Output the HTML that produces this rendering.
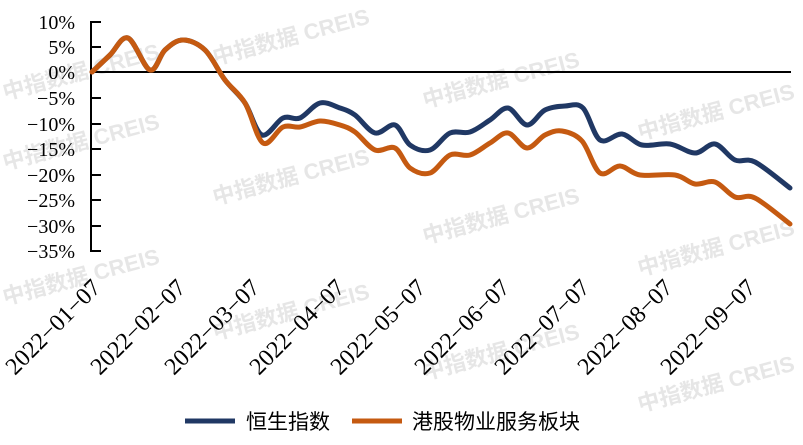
<!DOCTYPE html>
<html><head><meta charset="utf-8"><style>
html,body{margin:0;padding:0;background:#fff;}
svg{display:block;}
</style></head><body>
<svg id="s" width="803" height="445" viewBox="0 0 803 445" xmlns="http://www.w3.org/2000/svg">
<g font-family="Liberation Sans, Noto Sans CJK SC, sans-serif" font-size="22" font-weight="bold" fill="#e6e6e6">
<text transform="translate(5,100) rotate(-15)">中指数据 CREIS</text>
<text transform="translate(215,65) rotate(-15)">中指数据 CREIS</text>
<text transform="translate(5,170) rotate(-15)">中指数据 CREIS</text>
<text transform="translate(215,205) rotate(-15)">中指数据 CREIS</text>
<text transform="translate(5,305) rotate(-15)">中指数据 CREIS</text>
<text transform="translate(215,340) rotate(-15)">中指数据 CREIS</text>
<text transform="translate(425,108) rotate(-15)">中指数据 CREIS</text>
<text transform="translate(640,140) rotate(-15)">中指数据 CREIS</text>
<text transform="translate(425,244) rotate(-15)">中指数据 CREIS</text>
<text transform="translate(640,276) rotate(-15)">中指数据 CREIS</text>
<text transform="translate(425,380) rotate(-15)">中指数据 CREIS</text>
<text transform="translate(640,412) rotate(-15)">中指数据 CREIS</text>
</g>
<g stroke="#000" stroke-width="2">
<line x1="91" y1="21" x2="91" y2="252"/>
<line x1="91" y1="72" x2="791" y2="72"/>
<line x1="91" y1="22" x2="101" y2="22"/>
<line x1="91" y1="47" x2="101" y2="47"/>
<line x1="91" y1="98" x2="101" y2="98"/>
<line x1="91" y1="124" x2="101" y2="124"/>
<line x1="91" y1="149" x2="101" y2="149"/>
<line x1="91" y1="175" x2="101" y2="175"/>
<line x1="91" y1="200" x2="101" y2="200"/>
<line x1="91" y1="226" x2="101" y2="226"/>
<line x1="91" y1="251" x2="101" y2="251"/>
</g>
<g font-family="Liberation Serif, serif" font-size="20" fill="#000" text-anchor="end">
<text x="75" y="29">10%</text>
<text x="75" y="54">5%</text>
<text x="75" y="79">0%</text>
<text x="75" y="105">−5%</text>
<text x="75" y="131">−10%</text>
<text x="75" y="156">−15%</text>
<text x="75" y="182">−20%</text>
<text x="75" y="207">−25%</text>
<text x="75" y="233">−30%</text>
<text x="75" y="258">−35%</text>
</g>
<g font-family="Liberation Serif, serif" font-size="24" fill="#000" text-anchor="end">
<text transform="translate(102,289) rotate(-45)">2022−01−07</text>
<text transform="translate(187,289) rotate(-45)">2022−02−07</text>
<text transform="translate(261,289) rotate(-45)">2022−03−07</text>
<text transform="translate(346,289) rotate(-45)">2022−04−07</text>
<text transform="translate(427,289) rotate(-45)">2022−05−07</text>
<text transform="translate(511,289) rotate(-45)">2022−06−07</text>
<text transform="translate(591,289) rotate(-45)">2022−07−07</text>
<text transform="translate(674,289) rotate(-45)">2022−08−07</text>
<text transform="translate(757,289) rotate(-45)">2022−09−07</text>
</g>
<path id="pb" fill="none" stroke="#203864" stroke-width="5" stroke-linejoin="round" stroke-linecap="round"/>
<path id="po" fill="none" stroke="#c55a11" stroke-width="5" stroke-linejoin="round" stroke-linecap="round"/>
<line x1="185" y1="421" x2="235" y2="421" stroke="#203864" stroke-width="5"/>
<line x1="352" y1="421" x2="402" y2="421" stroke="#c55a11" stroke-width="5"/>
<g font-family="Liberation Sans, Noto Sans CJK SC, sans-serif" font-size="21" fill="#000">
<text x="246" y="429">恒生指数</text>
<text x="412" y="429">港股物业服务板块</text>
</g>
</svg>
<script>
function cr(p){var d="M"+p[0][0]+","+p[0][1];for(var i=0;i<p.length-1;i++){var a=p[i-1]||p[i],b=p[i],c=p[i+1],e=p[i+2]||c;
d+=" C"+(b[0]+(c[0]-a[0])/6)+","+(b[1]+(c[1]-a[1])/6)+" "+(c[0]-(e[0]-b[0])/6)+","+(c[1]-(e[1]-b[1])/6)+" "+c[0]+","+c[1];}return d;}
var common=[[92,72],[110,55],[128,38],[150,70],[165,50],[183,40],[205,50],[225,80],[245,103]];
var blue=common.concat([[262,135],[283,118],[300,118],[320,103],[340,108],[355,115],[375,133],[395,125],[410,145],[430,150],[450,133],[470,132],[490,120],[508,108],[527,125],[545,110],[565,106],[583,108],[600,140],[622,134],[642,145],[670,144],[695,153],[715,144],[735,160],[755,162],[790,188]]);
var orange=common.concat([[263,143],[283,127],[300,127],[320,121],[340,125],[355,132],[375,150],[395,148],[410,168],[430,173],[450,155],[470,155],[490,143],[508,133],[527,148],[545,135],[562,131],[582,141],[600,173],[620,166],[640,175],[675,175],[695,184],[715,182],[735,197],[755,198],[790,224]]);
document.getElementById("pb").setAttribute("d",cr(blue));
document.getElementById("po").setAttribute("d",cr(orange));
</script>
</body></html>
